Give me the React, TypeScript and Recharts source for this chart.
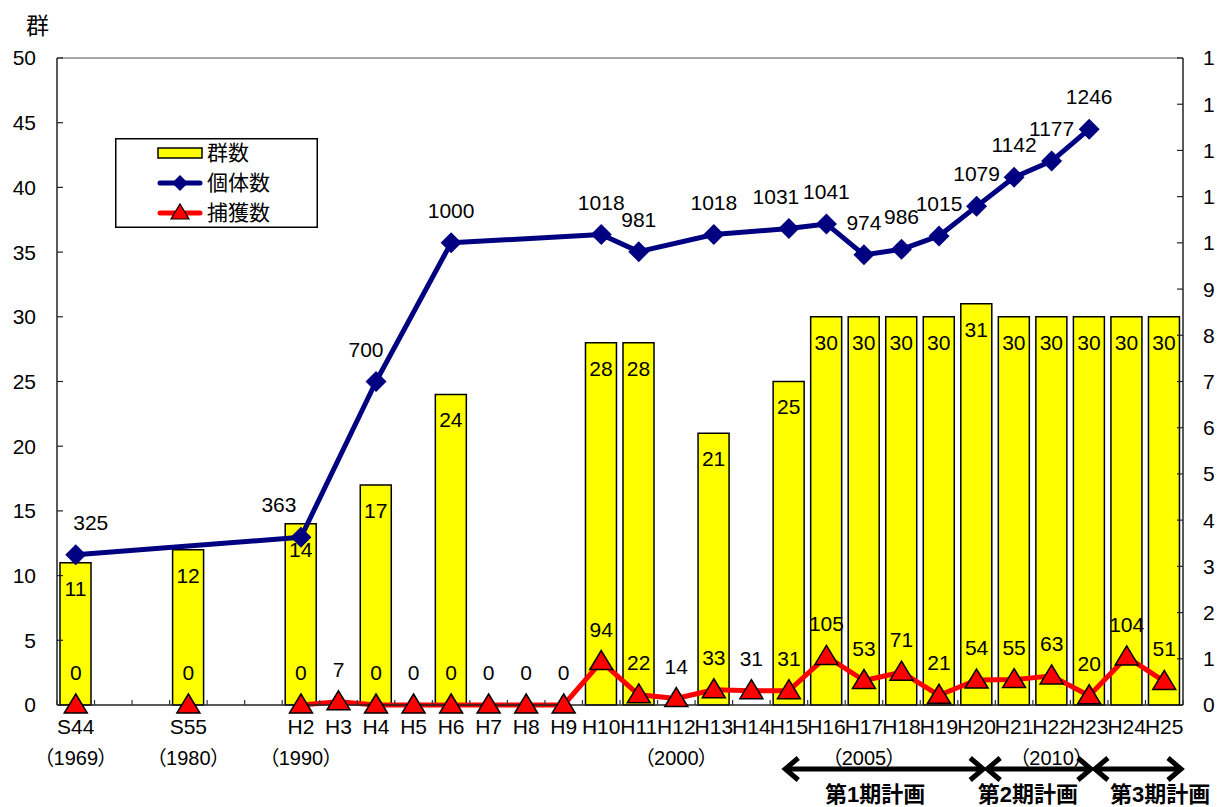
import React from "react";
import { Bar, ComposedChart, LabelList, Legend, Line, ReferenceLine, XAxis, YAxis } from "recharts";

// slots: blanks keep the S44 -> S55 -> H2 spacing of the original
const categories = [
  "S44", "", "", "S55", "", "", "H2", "H3", "H4", "H5",
  "H6", "H7", "H8", "H9", "H10", "H11", "H12", "H13", "H14", "H15",
  "H16", "H17", "H18", "H19", "H20", "H21", "H22", "H23", "H24", "H25",
];
const yearLabels = [
  "（1969）", "", "", "（1980）", "", "", "（1990）", "", "", "",
  "", "", "", "", "", "", "（2000）", "", "", "",
  "", "（2005）", "", "", "", "", "（2010）", "", "", "",
];
// 群数
const groups = [
  11, null, null, 12, null, null, 14, null, 17, null,
  24, null, null, null, 28, 28, null, 21, null, 25,
  30, 30, 30, 30, 31, 30, 30, 30, 30, 30,
];
// 個体数
const individuals = [
  325, null, null, null, null, null, 363, null, 700, null,
  1000, null, null, null, 1018, 981, null, 1018, null, 1031,
  1041, 974, 986, 1015, 1079, 1142, 1177, 1246, null, null,
];
// 捕獲数
const captures = [
  0, null, null, 0, null, null, 0, 7, 0, 0,
  0, 0, 0, 0, 94, 22, 14, 33, 31, 31,
  105, 53, 71, 21, 54, 55, 63, 20, 104, 51,
];

const leftTicks = [0, 5, 10, 15, 20, 25, 30, 35, 40, 45, 50];
const rightTicks = [0, 100, 200, 300, 400, 500, 600, 700, 800, 900, 1000, 1100, 1200, 1300, 1400];

// plan periods, in slot units counted from the left edge of the plot
const planNames = ["第1期計画", "第2期計画", "第3期計画"];
const planFrom = [19.35, 24.73, 27.6];
const planTo = [24.73, 27.6, 30];
const planLabelAt = [21.8, 25.87, 29.39];

const legendOrder = ["groups", "individuals", "captures"];

// hand-placed 個体数 labels in the original (horizontal shift, px)
const labelNudge: Record<string, number> = { S44: 15, H2: -22, H4: -10, H15: -13 };

const data = categories.map((label, i) => ({
  label,
  groups: groups[i],
  individuals: individuals[i],
  captures: captures[i],
}));

const FONT = "'Liberation Sans', 'Noto Sans CJK JP', sans-serif";
const NAVY = "#000080";
const RED = "#ff0000";
const YELLOW = "#ffff00";

function DiamondDot(props: any) {
  const { cx, cy, index } = props;
  if (cx == null || cy == null || Number.isNaN(cy)) return <g key={index} />;
  const s = 10.5;
  return (
    <polygon key={index} points={`${cx},${cy - s} ${cx + s},${cy} ${cx},${cy + s} ${cx - s},${cy}`} fill={NAVY} />
  );
}

function TriangleDot(props: any) {
  const { cx, cy, index } = props;
  if (cx == null || cy == null || Number.isNaN(cy)) return <g key={index} />;
  return (
    <polygon
      key={index}
      points={`${cx},${cy - 11} ${cx + 11.5},${cy + 8} ${cx - 11.5},${cy + 8}`}
      fill={RED}
      stroke="#000"
      strokeWidth={1.5}
    />
  );
}

function IndividualLabel(props: any) {
  const { value, index } = props;
  if (value == null) return null;
  const x = props.x ?? props.viewBox?.x;
  const y = props.y ?? props.viewBox?.y;
  if (x == null || y == null) return null;
  const dx = labelNudge[categories[index]] ?? 0;
  return (
    <text x={x + dx} y={y - 25} textAnchor="middle" fontSize={21} fontFamily={FONT} fill="#000">
      {value}
    </text>
  );
}

function PlanArrows({ left, slot, y }: { left: number; slot: number; y: number }) {
  const h = 15;
  const w = 11;
  return (
    <g>
      {planNames.map((name, i) => {
        const x1 = left + planFrom[i] * slot;
        const x2 = left + planTo[i] * slot;
        const lx = left + planLabelAt[i] * slot;
        return (
          <g key={name}>
            <line x1={x1 + 3} y1={y} x2={x2 - 3} y2={y} stroke="#000" strokeWidth={5} />
            <polyline
              points={`${x1 + h},${y - w} ${x1 + 2},${y} ${x1 + h},${y + w}`}
              fill="none"
              stroke="#000"
              strokeWidth={5}
            />
            <polyline
              points={`${x2 - h},${y - w} ${x2 - 2},${y} ${x2 - h},${y + w}`}
              fill="none"
              stroke="#000"
              strokeWidth={5}
            />
            <text x={lx} y={y + 33} textAnchor="middle" fontSize={22} fontWeight={700} fontFamily={FONT} fill="#000">
              {name}
            </text>
          </g>
        );
      })}
    </g>
  );
}

function CategoryTick(props: any) {
  const { x, y, payload, index } = props;
  const half = payload?.offset || 18.77;
  const last = index === categories.length - 1;
  return (
    <g>
      <line x1={x - half} y1={y} x2={x - half} y2={y - 5} stroke="#333" strokeWidth={1.2} />
      {last && <line x1={x + half} y1={y} x2={x + half} y2={y - 5} stroke="#333" strokeWidth={1.2} />}
      <text x={x} y={y + 29} textAnchor="middle" fontSize={21} fontFamily={FONT} fill="#000">
        {categories[index]}
      </text>
      <text
        x={x}
        y={y + 60}
        textAnchor="middle"
        fontSize={20}
        fontFamily={FONT}
        fill="#000"
        style={{ fontFeatureSettings: "'palt'" }}
      >
        {yearLabels[index]}
      </text>
      {index === 0 && <PlanArrows left={x - half} slot={half * 2} y={y + 64} />}
    </g>
  );
}

function LegendBox({ payload }: any) {
  const rows = [...((payload ?? []) as any[])].sort(
    (a, b) => legendOrder.indexOf(a.dataKey) - legendOrder.indexOf(b.dataKey)
  );
  return (
    <svg width={203} height={90} style={{ display: "block" }}>
      <rect x={0.75} y={0.75} width={201.5} height={88.5} fill="#fff" stroke="#000" strokeWidth={1.5} />
      {rows.map((entry, i) => {
        const cy = 15 + i * 30;
        let icon;
        if (entry.dataKey === "groups") {
          icon = <rect x={43} y={cy - 5} width={44} height={10} fill={YELLOW} stroke="#000" strokeWidth={1.5} />;
        } else if (entry.dataKey === "individuals") {
          icon = (
            <g>
              <line x1={45} y1={cy} x2={85} y2={cy} stroke={NAVY} strokeWidth={5} strokeLinecap="round" />
              <polygon points={`65,${cy - 8} 73,${cy} 65,${cy + 8} 57,${cy}`} fill={NAVY} />
            </g>
          );
        } else {
          icon = (
            <g>
              <line x1={45} y1={cy} x2={85} y2={cy} stroke={RED} strokeWidth={5} strokeLinecap="round" />
              <polygon points={`65,${cy - 9} 74,${cy + 6} 56,${cy + 6}`} fill={RED} stroke="#000" strokeWidth={1.2} />
            </g>
          );
        }
        return (
          <g key={entry.value}>
            {icon}
            <text x={92} y={cy + 7} fontSize={21} fontFamily={FONT} fill="#000">
              {entry.value}
            </text>
          </g>
        );
      })}
    </svg>
  );
}

export default function App() {
  return (
    <div style={{ position: "relative", width: 1225, height: 807, background: "#fff", fontFamily: FONT }}>
      <style>{"body{margin:0}"}</style>
      <div style={{ position: "absolute", left: 26, top: 7, fontSize: 23, fontFamily: FONT, color: "#000" }}>群</div>
      <ComposedChart width={1215} height={807} data={data} margin={{ top: 58, right: 0, bottom: 0, left: 0 }}>
        <XAxis
          dataKey="label"
          interval={0}
          height={102}
          tickSize={0}
          tickMargin={0}
          tickLine={false}
          axisLine={{ stroke: "#222", strokeWidth: 1.5 }}
          tick={<CategoryTick />}
        />
        <YAxis
          yAxisId="left"
          domain={[0, 50]}
          ticks={leftTicks}
          interval={0}
          width={57}
          tickSize={-6}
          tickMargin={27}
          axisLine={{ stroke: "#222", strokeWidth: 1.5 }}
          tickLine={{ stroke: "#222", strokeWidth: 1.2 }}
          tick={{ fontSize: 21, fill: "#000", fontFamily: FONT }}
        />
        <YAxis
          yAxisId="right"
          orientation="right"
          domain={[0, 1400]}
          ticks={rightTicks}
          interval={0}
          width={32}
          tickSize={-6}
          tickMargin={26}
          axisLine={{ stroke: "#222", strokeWidth: 1.5 }}
          tickLine={{ stroke: "#222", strokeWidth: 1.2 }}
          tick={{ fontSize: 21, fill: "#000", fontFamily: FONT }}
        />
        <ReferenceLine yAxisId="left" y={50} stroke="#888" strokeWidth={1.5} />
        <Legend
          layout="vertical"
          align="center"
          verticalAlign="middle"
          wrapperStyle={{ left: 115, top: 138, width: 203, height: 90 }}
          content={<LegendBox />}
        />
        <Bar
          yAxisId="left"
          dataKey="groups"
          name="群数"
          fill={YELLOW}
          stroke="#000"
          strokeWidth={1.5}
          barSize={31}
          isAnimationActive={false}
        >
          <LabelList dataKey="groups" position="insideTop" offset={18} fontSize={21} fill="#000" fontFamily={FONT} />
        </Bar>
        <Line
          yAxisId="right"
          dataKey="individuals"
          name="個体数"
          stroke={NAVY}
          strokeWidth={5}
          strokeLinejoin="round"
          connectNulls
          dot={DiamondDot}
          activeDot={false}
          isAnimationActive={false}
        >
          <LabelList dataKey="individuals" content={IndividualLabel} />
        </Line>
        <Line
          yAxisId="right"
          dataKey="captures"
          name="捕獲数"
          stroke={RED}
          strokeWidth={5}
          strokeLinejoin="round"
          dot={TriangleDot}
          activeDot={false}
          isAnimationActive={false}
        >
          <LabelList dataKey="captures" position="top" offset={25} fontSize={21} fill="#000" fontFamily={FONT} />
        </Line>
      </ComposedChart>
    </div>
  );
}
